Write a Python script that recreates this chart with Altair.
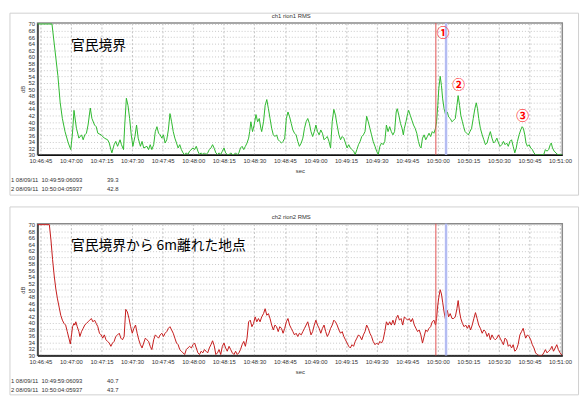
import altair as alt
import pandas as pd

# ---------------- data (seconds after 10:46:45, dB) ----------------
T1 = [-1.4, 5.7, 8.6, 9.7, 10.8, 12.1, 13.7, 14.9, 15.7, 16.5, 17.7, 18.9, 20.2, 21.0, 21.8, 22.6, 23.4, 24.5, 25.3, 26.6,
      27.4, 28.2, 29.8, 31.4, 33.0, 33.8, 34.6, 35.1, 36.2, 37.0, 37.9, 39.1, 39.8, 40.8, 41.4, 42.2, 43.0, 43.8, 44.6, 45.4,
      46.4, 47.2, 48.0, 49.1, 49.9, 50.7, 52.3, 53.1, 53.9, 54.7, 55.6, 56.4, 57.2, 58.0, 58.8, 59.6, 60.4, 61.2, 62.0, 62.8,
      63.6, 64.4, 65.2, 66.0, 66.8, 67.6, 68.4, 69.2, 70.0, 70.8, 71.6, 72.4, 73.2, 74.9, 75.7, 76.5, 77.3, 78.1, 78.9, 79.7,
      80.5, 81.3, 82.1, 82.9, 83.7, 84.5, 85.3, 86.1, 86.9, 87.7, 88.5, 89.3, 90.1, 90.9, 91.7, 92.6, 93.4, 94.2, 95.0, 95.8,
      96.6, 97.4, 98.2, 99.0, 99.8, 100.6, 101.4, 102.2, 102.7, 103.3, 104.1, 104.9, 105.8, 106.6, 107.4, 108.2, 108.6, 109.5,
      110.3, 111.1, 111.9, 112.7, 113.5, 114.3, 115.1, 115.9, 116.7, 117.5, 118.3, 119.1, 119.9, 120.7, 121.5, 122.3, 123.1,
      123.9, 124.7, 125.5, 126.3, 127.1, 128.0, 128.8, 129.6, 130.4, 131.2, 132.0, 132.8, 133.6, 134.4, 135.2, 136.0, 136.8,
      137.6, 138.4, 139.2, 140.0, 140.8, 141.6, 142.4, 143.2, 144.0, 144.8, 145.6, 146.5, 147.3, 148.1, 148.9, 149.7, 150.5,
      151.3, 152.1, 152.9, 153.7, 154.5, 155.3, 156.1, 156.9, 157.7, 158.5, 159.3, 160.1, 160.9, 161.7, 162.5, 163.3, 164.2,
      165.0, 165.8, 166.6, 167.4, 168.2, 169.0, 169.8, 170.6, 171.4, 172.2, 173.0, 173.8, 174.6, 175.1, 175.9, 176.7, 177.5,
      178.1, 178.6, 179.4, 180.2, 180.7, 181.5, 182.3, 183.1, 183.9, 184.7, 185.5, 186.2, 186.8, 187.5, 188.3, 189.1, 189.9,
      190.7, 191.5, 192.3, 193.1, 193.9, 194.4, 195.0, 195.5, 196.2, 196.8, 197.4, 198.1, 198.7, 199.2, 199.7, 200.3, 201.1,
      202.0, 202.8, 203.6, 204.4, 205.0, 205.7, 206.3, 207.1, 207.7, 208.4, 209.2, 210.0, 210.8, 211.6, 212.4, 213.2, 213.9,
      214.5, 215.1, 215.9, 216.8, 217.6, 218.4, 219.2, 220.0, 220.8, 221.6, 222.4, 223.2, 224.0, 224.8, 225.6, 226.4, 227.2,
      228.0, 228.8, 229.6, 230.4, 231.2, 232.0, 232.8, 233.5, 234.1, 234.9, 235.7, 236.4, 237.0, 237.7, 238.3, 239.0, 239.8,
      240.6, 241.4, 242.2, 243.0, 245.4, 247.0, 247.8, 248.6, 249.4, 250.2, 250.7, 251.3, 252.1, 253.0, 253.8, 256.1]
V1 = [70, 70, 54.2, 46.1, 41.1, 37.1, 33.6, 31.6, 36.1, 43.6, 38.1, 35.1, 36.1, 34.6, 36.1, 36.6, 39.1, 44.3, 41.1, 39.1,
      38.6, 36.6, 36.1, 35.1, 34.6, 33.6, 31.6, 30.6, 33.1, 34.1, 32.6, 34.6, 33.1, 31.6, 39.1, 47.3, 45.1, 41.1, 36.1, 32.6,
      35.6, 39.1, 35.1, 32.6, 34.1, 32.1, 32.6, 31.6, 33.1, 31.6, 33.1, 37.1, 38.6, 36.6, 36.1, 35.1, 36.1, 33.6, 34.6, 37.6,
      42.6, 40.1, 37.1, 35.1, 33.6, 32.1, 33.1, 31.6, 30.6, 30.0, 30.6, 30.1, 31.1, 32.1, 31.6, 32.6, 31.1, 30.1, 30.6, 30.1,
      30.6, 30.1, 30.6, 31.6, 32.1, 33.1, 32.0, 30.6, 30.1, 30.6, 30.1, 31.1, 32.1, 30.6, 30.1, 30.0, 30.6, 30.1, 30.1, 30.6,
      30.0, 30.6, 32.1, 32.6, 31.6, 32.6, 33.6, 35.1, 37.1, 40.1, 37.1, 39.1, 42.3, 40.1, 41.1, 38.1, 37.1, 40.1,
      45.1, 46.9, 44.1, 41.1, 38.1, 36.1, 35.6, 36.1, 34.6, 34.1, 33.6, 34.1, 35.1, 41.1, 43.1, 41.6, 39.6,
      37.6, 36.6, 36.1, 34.1, 32.6, 33.6, 35.1, 38.1, 40.1, 41.1, 39.6, 37.1, 35.6, 37.1, 39.1, 37.1, 36.1,
      37.6, 36.6, 34.6, 35.1, 35.6, 34.1, 32.1, 40.1, 43.9, 42.1, 39.1, 36.1, 34.6, 35.6, 35.1, 33.6, 32.1,
      33.1, 32.1, 31.6, 31.1, 30.1, 31.6, 33.1, 34.1, 35.6, 36.1, 37.1, 41.8, 40.1, 38.1, 36.1, 34.1, 32.6,
      31.1, 30.1, 32.6, 33.6, 33.1, 34.1, 39.1, 37.1, 38.6, 37.1, 36.1, 37.1, 43.1, 44.1, 42.1, 39.6, 38.1,
      36.1, 38.1, 40.1, 42.6, 43.6, 42.1, 40.6, 39.1, 38.1, 36.6, 34.1, 32.6, 32.1, 35.1, 36.1, 34.6, 35.6,
      36.6, 35.6, 37.1, 36.6, 38.1, 40.1, 45.1, 50.2, 54.0, 51.2, 47.1, 44.1, 42.6, 42.1, 43.1, 41.6, 41.1,
      40.1, 40.6, 41.1, 45.1, 48.1, 45.1, 42.1, 40.1, 38.6, 37.1, 36.6, 36.1, 37.1, 38.1, 41.1, 44.1, 45.9,
      44.1, 41.1, 38.1, 36.1, 34.6, 33.1, 33.6, 35.6, 37.1, 35.1, 33.6, 34.1, 35.1, 33.6, 32.6, 33.1, 34.1,
      33.1, 33.6, 32.6, 34.1, 34.6, 32.6, 30.6, 32.1, 34.1, 36.1, 37.6, 38.6, 38.1, 36.1, 33.6, 32.6, 33.1,
      32.1, 31.6, 30.6, 30.0, 30.0, 30.1, 31.6, 31.1, 31.6, 33.1, 33.6, 32.1, 31.1, 30.6, 30.1, 30.0]

T2 = [-1.4, 4.4, 5.2, 6.0, 6.8, 7.6, 8.4, 9.2, 10.0, 10.8, 11.6, 12.4, 13.2, 14.0, 14.7, 15.3, 15.8, 16.5, 16.9, 17.4,
      18.1, 18.9, 19.4, 20.2, 21.0, 21.8, 22.6, 23.4, 24.2, 25.0, 25.8, 26.6, 27.4, 28.2, 29.0, 29.8, 30.6, 31.4, 32.2, 33.0,
      33.8, 34.6, 35.4, 36.2, 37.0, 37.9, 38.7, 39.5, 40.3, 41.1, 41.9, 42.7, 43.5, 44.3, 45.1, 45.9, 46.7, 47.5, 48.3, 49.1,
      49.9, 50.7, 51.5, 52.3, 53.1, 53.9, 54.7, 55.6, 56.4, 57.2, 58.0, 58.8, 59.6, 60.4, 61.2, 62.0, 62.8, 63.6, 64.4, 65.2,
      66.0, 66.8, 67.6, 68.4, 69.2, 70.0, 70.8, 71.6, 72.4, 73.2, 74.1, 74.9, 75.7, 76.5, 77.3, 78.1, 78.9, 79.7, 80.5, 81.3,
      82.1, 82.9, 83.7, 84.5, 85.3, 86.1, 86.9, 87.7, 88.5, 89.3, 90.1, 90.9, 91.7, 92.6, 93.4, 94.2, 95.0, 95.8, 96.6, 97.4,
      98.2, 99.0, 99.8, 100.6, 101.4, 102.2, 103.0, 103.8, 104.6, 105.4, 106.2, 107.0, 107.8, 108.6, 109.5, 110.3, 111.1,
      111.9, 112.7, 113.5, 114.3, 115.1, 115.9, 116.7, 117.5, 118.3, 119.1, 119.9, 120.7, 121.5, 122.3, 123.1, 123.9, 124.7,
      125.5, 126.3, 127.1, 128.0, 128.8, 129.6, 130.4, 131.2, 132.0, 132.8, 133.6, 134.4, 135.2, 136.0, 136.8, 137.6, 138.4,
      139.2, 140.0, 140.8, 141.6, 142.4, 143.2, 144.0, 144.8, 145.6, 146.5, 147.3, 148.1, 148.9, 149.7, 150.5, 151.3, 152.1,
      152.9, 153.7, 154.5, 155.3, 156.1, 156.9, 157.7, 158.5, 159.3, 160.1, 160.9, 161.7, 162.5, 163.3, 164.2, 165.0, 165.8,
      166.6, 167.4, 168.2, 169.0, 169.8, 170.6, 171.4, 172.2, 173.0, 173.8, 174.6, 175.4, 176.2, 177.0, 177.8, 178.6, 179.4,
      180.2, 181.0, 181.8, 182.6, 183.5, 184.3, 185.1, 185.9, 186.7, 187.5, 188.3, 189.1, 189.9, 190.7, 191.5, 192.3, 193.1,
      193.9, 194.4, 194.9, 195.5, 196.2, 196.8, 197.4, 198.1, 198.7, 199.2, 199.7, 200.3, 201.1, 202.0, 202.8, 203.6, 204.4,
      205.0, 205.7, 206.3, 207.1, 207.9, 208.7, 209.5, 210.3, 211.1, 211.9, 212.7, 213.5, 214.3, 215.1, 215.9, 216.8, 217.6,
      218.4, 219.2, 220.0, 220.8, 221.6, 222.4, 223.2, 224.0, 224.8, 225.6, 226.4, 227.2, 228.0, 228.8, 229.6, 230.4, 231.2,
      232.0, 232.8, 233.6, 234.4, 235.3, 236.1, 236.9, 237.5, 238.1, 239.0, 239.8, 240.6, 241.4, 242.2, 243.0, 243.8, 244.6,
      246.2, 247.0, 247.8, 248.6, 249.4, 250.2, 251.0, 251.8, 252.6, 253.4, 254.2, 255.0, 256.1]
V2 = [70, 70, 65.3, 59.3, 54.3, 50.3, 47.3, 44.8, 42.3, 40.8, 39.8, 39.3, 37.3, 35.3, 33.5, 36.3, 38.8, 39.8, 39.3, 40.3,
      38.8, 37.3, 35.8, 37.3, 38.3, 39.3, 39.8, 40.3, 40.8, 41.3, 40.3, 40.8, 39.8, 38.8, 36.8, 36.3, 35.3, 36.3, 34.8, 34.3,
      33.8, 32.8, 33.8, 34.3, 35.8, 36.3, 36.8, 35.3, 34.8, 35.8, 44.1, 43.3, 41.3, 38.8, 36.8, 38.3, 39.3, 36.8, 34.8, 33.3,
      32.3, 33.8, 35.3, 34.8, 34.3, 32.8, 31.8, 34.8, 36.3, 35.8, 35.3, 36.3, 36.8, 35.8, 36.8, 37.3, 38.3, 38.8, 37.8, 36.8,
      35.3, 33.8, 33.3, 31.8, 31.3, 30.8, 30.3, 31.8, 32.3, 32.8, 32.3, 33.3, 33.8, 32.3, 30.8, 30.3, 31.3, 30.8, 31.8, 31.3,
      30.8, 32.3, 33.3, 34.5, 33.0, 30.3, 30.8, 31.8, 30.3, 32.8, 33.8, 32.3, 31.3, 32.8, 31.8, 30.8, 30.3, 31.3, 30.3, 30.8,
      31.8, 33.3, 34.3, 32.8, 35.3, 40.3, 40.8, 38.8, 39.8, 41.8, 40.3, 41.3, 40.3, 41.8, 42.8, 44.3, 42.3,
      42.8, 41.3, 39.3, 37.8, 39.3, 38.8, 37.3, 38.8, 38.3, 36.8, 38.3, 40.3, 41.3, 39.3, 38.3, 37.3, 36.3,
      36.8, 35.8, 36.8, 36.3, 37.3, 38.3, 39.3, 40.3, 38.3, 36.3, 37.3, 39.3, 40.8, 39.3, 38.3, 36.8, 38.3,
      39.3, 37.3, 35.8, 36.8, 38.3, 39.3, 40.8, 40.3, 39.3, 37.8, 36.8, 37.3, 35.8, 34.8, 33.8, 32.8, 32.3,
      33.3, 32.8, 34.3, 35.3, 36.3, 35.8, 34.8, 36.3, 37.3, 39.3, 38.3, 36.8, 35.8, 34.3, 33.3, 33.8, 33.3,
      34.3, 33.8, 34.8, 37.3, 40.3, 39.3, 40.3, 39.3, 40.8, 39.3, 41.3, 42.3, 40.8, 41.3, 39.3, 41.8, 41.3,
      40.8, 41.3, 40.3, 41.3, 39.3, 38.3, 37.3, 37.8, 36.3, 33.8, 35.8, 37.8, 37.3, 38.3, 38.8, 40.3, 40.8,
      39.3, 41.3, 44.8, 47.8, 50.1, 48.8, 46.3, 43.3, 41.3, 42.8, 43.8, 41.8, 42.8, 41.3, 41.3, 41.8, 44.3,
      46.8, 43.3, 41.3, 39.8, 38.8, 39.3, 38.3, 39.3, 37.8, 39.3, 41.3, 43.1, 41.3, 39.3, 38.3, 36.8, 37.8,
      37.3, 35.8, 36.8, 34.8, 36.3, 35.3, 34.8, 35.3, 36.3, 35.3, 34.3, 33.3, 35.3, 34.8, 32.8, 33.3, 32.3,
      33.3, 31.3, 31.8, 33.3, 36.3, 37.3, 38.3, 36.8, 35.3, 36.3, 35.8, 34.8, 33.3, 32.3, 30.8, 30.3, 30.0,
      30.0, 30.8, 31.8, 30.8, 31.3, 31.8, 32.8, 31.3, 32.3, 33.3, 31.8, 30.8, 30.0]

X_TICKS = list(range(0, 256, 15))
X_LABELS = ["10:46:45", "10:47:00", "10:47:15", "10:47:30", "10:47:45", "10:48:00", "10:48:15", "10:48:30",
            "10:48:45", "10:49:00", "10:49:15", "10:49:30", "10:49:45", "10:50:00", "10:50:15", "10:50:30",
            "10:50:45", "10:51:00"]
Y_TICKS = list(range(30, 71, 2))

CURSOR_T = [194.06, 199.06]
CURSOR_ROWS = ["1 08/09/11", "2 08/09/11"]
CURSOR_TIMES = ["10:49:59:06093", "10:50:04:05937"]
TOP_CURSOR_VALUES = ["39.3", "42.8"]
BOTTOM_CURSOR_VALUES = ["40.7", "43.7"]

TOP_TITLE = "ch1 rion1 RMS"
BOTTOM_TITLE = "ch2 rion2 RMS"
TOP_NOTE = "官民境界"
BOTTOM_NOTE = "官民境界から 6m離れた地点"
NOTE_POS = (15.0, 63.4)
MARKERS = ["①", "②", "③"]
MARKER_T = [197.6, 205.3, 236.7]
MARKER_V = [67.2, 51.4, 41.9]

# ---------------- layout ----------------
W = 533.5
H = 134
XDOM = [-1.4, 256.1]
YDOM = [30, 70.3]
SMALL = "Liberation Sans"
JP = "Noto Sans CJK JP"

label_expr = "[" + ",".join("'%s'" % s for s in X_LABELS) + "][round(datum.value/15)]"

xenc = alt.X("t:Q", scale=alt.Scale(domain=XDOM, nice=False, zero=False),
             axis=alt.Axis(values=X_TICKS, labelExpr=label_expr, title="sec", grid=True,
                           gridColor="#c2c2c2", gridDash=[2, 2], ticks=False,
                           domainColor="#111111", domainWidth=1.5, labelFontSize=6, labelPadding=3,
                           labelColor="#333333", labelFont=SMALL, labelFlush=False, labelOverlap=False,
                           titleFont=SMALL, titleFontSize=6, titleFontWeight="normal",
                           titleColor="#333333", titleY=16, titleBaseline="middle"))
yenc = alt.Y("v:Q", scale=alt.Scale(domain=YDOM, nice=False, zero=False),
             axis=alt.Axis(values=Y_TICKS, title="dB", grid=True, gridColor="#c8c8c8", gridDash=[1, 2],
                           ticks=False, domainColor="#333333", domainWidth=1.5, labelFontSize=6,
                           labelPadding=3, labelColor="#333333", labelFont=SMALL, labelOverlap=False,
                           labelFlush=False, titleFont=SMALL, titleFontSize=6, titleFontWeight="normal",
                           titleColor="#333333", titleX=-15, titleY=H / 2, titleBaseline="middle",
                           titleAlign="center"))

one = pd.DataFrame({"k": [0]})


def panel(T, V, color, title, note, cursor_vals, frame_top, frame_bottom):
    df = pd.DataFrame({"t": T, "v": V})
    frame = alt.Chart(one).mark_rect(fillOpacity=0, stroke="#d0d0d0", strokeWidth=1).encode(
        x=alt.value(-28), x2=alt.value(W + 16.5), y=alt.value(frame_top), y2=alt.value(frame_bottom))
    line = alt.Chart(df).mark_line(color=color, strokeWidth=1, clip=True).encode(x=xenc, y=yenc)
    cur = pd.DataFrame({"t": CURSOR_T})
    red = alt.Chart(cur.iloc[[0]]).mark_rule(color="#e05050", strokeWidth=1).encode(x=xenc)
    blue = alt.Chart(cur.iloc[[1]]).mark_rule(color="#b4bcf2", strokeWidth=2.5).encode(x=xenc)
    ttl = alt.Chart(pd.DataFrame({"s": [title]})).mark_text(
        font=SMALL, fontSize=6, color="#333333", align="center", baseline="middle").encode(
        x=alt.value(258), y=alt.value(-7), text="s:N")
    nt = alt.Chart(pd.DataFrame({"t": [NOTE_POS[0]], "v": [NOTE_POS[1]], "s": [note]})).mark_text(
        font=JP, fontSize=14, color="#000000", align="left", baseline="middle").encode(
        x=xenc, y=yenc, text="s:N")
    leg = []
    for xpos, col in [(-27, CURSOR_ROWS), (4, CURSOR_TIMES), (70.7, cursor_vals)]:
        leg.append(alt.Chart(pd.DataFrame({"s": ["\n".join(col)]})).mark_text(
            font=SMALL, fontSize=6, color="#333333", align="left", baseline="middle",
            lineBreak="\n", lineHeight=8.7).encode(x=alt.value(xpos), y=alt.value(H + 26), text="s:N"))
    return [frame, line, red, blue, ttl, nt] + leg


top_layers = panel(T1, V1, "#2cb82c", TOP_TITLE, TOP_NOTE, TOP_CURSOR_VALUES, -10, H + 41)
mk = alt.Chart(pd.DataFrame({"t": MARKER_T, "v": MARKER_V, "s": MARKERS})).mark_text(
    font=JP, fontSize=13, fontWeight="bold", color="#ff0000", align="center", baseline="middle").encode(
    x=xenc, y=yenc, text="s:N")
top = alt.layer(*top_layers, mk).properties(width=W, height=H)

bottom_layers = panel(T2, V2, "#c41a1a", BOTTOM_TITLE, BOTTOM_NOTE, BOTTOM_CURSOR_VALUES, -17, H + 40)
bottom = alt.layer(*bottom_layers).properties(width=W, height=H)

chart = alt.vconcat(top, bottom, spacing=70, bounds="flush").properties(padding=0).configure_view(
    stroke="#8a8a8a", strokeWidth=1.5)

chart.save("out.html", embed_options={"renderer": "svg", "actions": False})
